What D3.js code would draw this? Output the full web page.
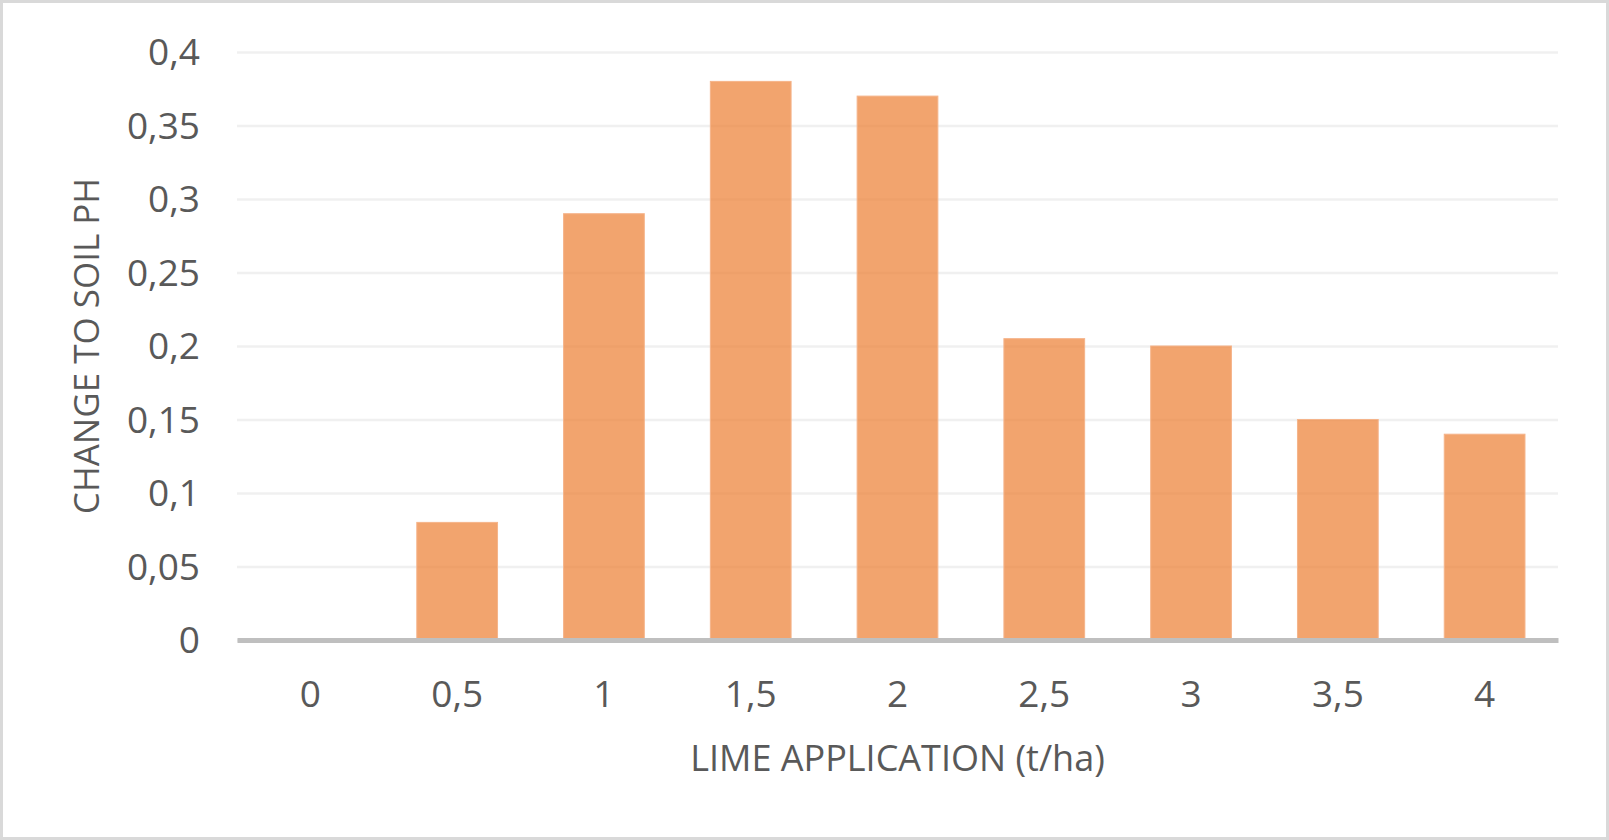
<!DOCTYPE html>
<html>
<head>
<meta charset="utf-8">
<script src="https://cdn.jsdelivr.net/npm/d3@7"></script>
<style>
  html, body { margin: 0; padding: 0; background: #fff; }
  svg { display: block; }
  text { font-family: "Open Sans", "Noto Sans", sans-serif; fill: #595959; }
</style>
</head>
<body>
<svg id="chart" width="1609" height="840"></svg>
<script>
const categories = ["0", "0,5", "1", "1,5", "2", "2,5", "3", "3,5", "4"];
const values = [0, 0.08, 0.29, 0.38, 0.37, 0.205, 0.2, 0.15, 0.14];
const yTicks = [0, 0.05, 0.1, 0.15, 0.2, 0.25, 0.3, 0.35, 0.4];
const xTitle = "LIME APPLICATION (t/ha)";
const yTitle = "CHANGE TO SOIL PH";

const W = 1609, H = 840;
const plot = { left: 237, right: 1558, top: 52, bottom: 640 };

const svg = d3.select("#chart");

// outer border
svg.append("rect")
  .attr("x", 1.5).attr("y", 1.5)
  .attr("width", W - 3).attr("height", H - 3)
  .attr("fill", "#fff").attr("stroke", "#d9d9d9").attr("stroke-width", 3);

const x = d3.scaleBand().domain(categories).range([plot.left, plot.right])
  .paddingInner(0.45).paddingOuter(0.225);
const y = d3.scaleLinear().domain([0, 0.4]).range([plot.bottom, plot.top]);

const fmt = v => String(v).replace(".", ",");

// gridlines
const yAxis = d3.axisLeft(y).tickValues(yTicks).tickSize(-(plot.right - plot.left)).tickFormat(fmt).tickPadding(37);
const gy = svg.append("g").attr("transform", `translate(${plot.left},0)`).call(yAxis);
gy.select(".domain").remove();
gy.selectAll(".tick line").attr("stroke", "#f0f0f0").attr("stroke-width", 2.5);
gy.selectAll(".tick text")
  .attr("font-size", 37)
  .attr("fill", "#595959")
  .attr("dy", "0.34em");

// bars
svg.append("g").selectAll("rect").data(values).join("rect")
  .attr("x", (d, i) => x(categories[i]))
  .attr("width", x.bandwidth())
  .attr("y", d => y(d))
  .attr("height", d => y(0) - y(d))
  .attr("fill", "#ED7D31")
  .attr("fill-opacity", 0.7)
  .attr("stroke", "#f5b48a")
  .attr("stroke-width", d => d > 0 ? 1 : 0);

// x axis
const xAxis = d3.axisBottom(x).tickSize(0).tickPadding(41);
const gx = svg.append("g").attr("transform", `translate(0,${plot.bottom})`).call(xAxis);
gx.select(".domain").attr("stroke", "#bfbfbf").attr("stroke-width", 5);
gx.selectAll(".tick text").attr("font-size", 37).attr("fill", "#595959");

// axis titles
svg.append("text")
  .attr("x", (plot.left + plot.right) / 2)
  .attr("y", 771)
  .attr("text-anchor", "middle")
  .attr("font-size", 36)
  .text(xTitle);

svg.append("text")
  .attr("transform", `translate(99,${(plot.top + plot.bottom) / 2}) rotate(-90)`)
  .attr("text-anchor", "middle")
  .attr("font-size", 35)
  .text(yTitle);
</script>
</body>
</html>
